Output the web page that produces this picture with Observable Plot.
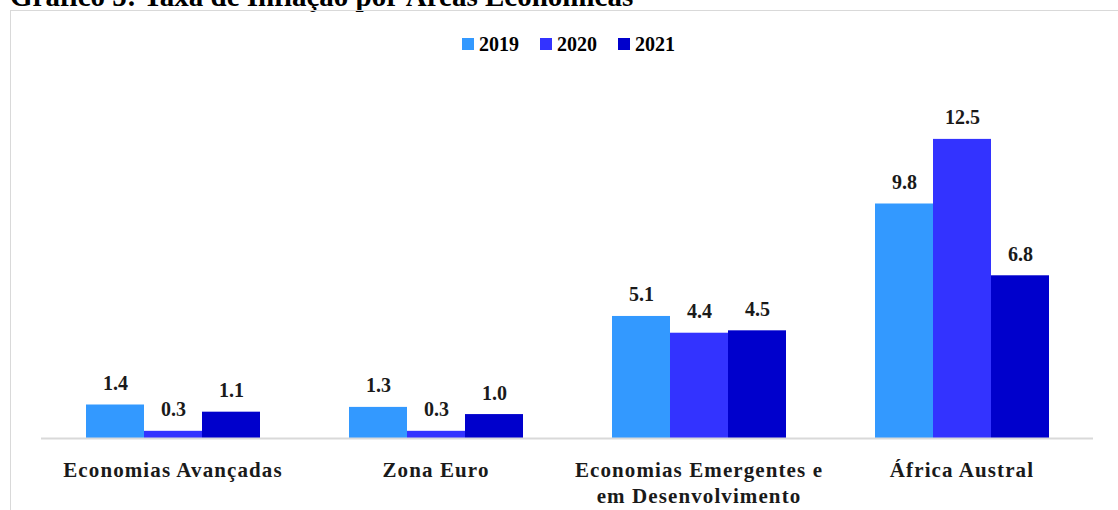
<!DOCTYPE html>
<html>
<head>
<meta charset="utf-8">
<script src="https://cdn.jsdelivr.net/npm/d3@7"></script>
<script src="https://cdn.jsdelivr.net/npm/@observablehq/plot@0.6"></script>
<style>
  html, body { margin: 0; padding: 0; background: #fff; overflow: hidden; }
  #wrap { position: relative; width: 1118px; height: 510px; overflow: hidden; }
  #title { position: absolute; left: 10px; top: -20px; font: bold 29px "Liberation Serif", serif; color: #000; white-space: nowrap; }
  #frame { position: absolute; left: 10px; top: 10px; width: 1200px; height: 600px; border: 1px solid #d9d9d9; box-sizing: border-box; }
  #legend { position: absolute; left: 462px; top: 32px; font: bold 20px "Liberation Serif", serif; color: #000; white-space: nowrap; }
  #legend span.item { display: inline-flex; align-items: center; margin-right: 21px; }
  #legend span.sw { display: inline-block; width: 12px; height: 12px; margin-right: 5px; }
  #chart { position: absolute; left: 0; top: 0; }
</style>
</head>
<body>
<div id="wrap">
  <div id="title">Gráfico 5: Taxa de Inflação por Áreas Económicas</div>
  <div id="frame"></div>
  <div id="legend"></div>
  <div id="chart"></div>
</div>
<script>
const categories = ["Economias Avançadas", "Zona Euro", "Economias Emergentes e\nem Desenvolvimento", "África Austral"];
const years = ["2019", "2020", "2021"];
const v2019 = [1.4, 1.3, 5.1, 9.8];
const v2020 = [0.3, 0.3, 4.4, 12.5];
const v2021 = [1.1, 1.0, 4.5, 6.8];
const colors = ["#3399ff", "#3333ff", "#0000cc"];

const series = [v2019, v2020, v2021];
const data = [];
categories.forEach((c, i) => years.forEach((y, j) => data.push({cat: c, year: y, value: series[j][i]})));

// legend
const legend = document.getElementById("legend");
years.forEach((y, j) => {
  const it = document.createElement("span");
  it.className = "item";
  it.innerHTML = `<span class="sw" style="background:${colors[j]}"></span>${y}`;
  legend.appendChild(it);
});

const labelFont = "Liberation Serif";
const chart = Plot.plot({
  width: 1118,
  height: 510,
  marginLeft: 41,
  marginRight: 25,
  marginTop: 103,
  marginBottom: 72,
  style: {background: "transparent", fontFamily: labelFont},
  fx: {domain: categories, padding: 0, axis: null},
  x: {domain: years, paddingInner: 0, paddingOuter: 0.742, axis: null},
  y: {domain: [0, 14], axis: null},
  color: {domain: years, range: colors},
  marks: [
    Plot.barY(data, {fx: "cat", x: "year", y: "value", fill: "year", inset: 0}),
    Plot.ruleY([0], {stroke: "#d9d9d9", strokeWidth: 2}),
    Plot.text(data, {fx: "cat", x: "year", y: "value", text: d => d.value.toFixed(1), lineAnchor: "bottom", dy: -15, fontSize: 20, fontWeight: "bold", fill: "#1a1a1a"}),
    Plot.text(categories, {fx: d => d, text: d => d, frameAnchor: "bottom", lineAnchor: "top", dy: 20, fontSize: 21, fontWeight: "bold", lineHeight: 1.25, fill: "#1a1a1a"})
  ]
});
const catLines = new Set(categories.flatMap(c => c.split("\n")));
chart.querySelectorAll("text").forEach(t => {
  const parts = t.querySelectorAll("tspan").length ? [...t.querySelectorAll("tspan")].map(s => s.textContent) : [t.textContent];
  if (parts.some(p => catLines.has(p))) {
    t.setAttribute("letter-spacing", "1.1");
    t.style.letterSpacing = "1.1px";
  }
});
document.getElementById("chart").appendChild(chart);
</script>
</body>
</html>
